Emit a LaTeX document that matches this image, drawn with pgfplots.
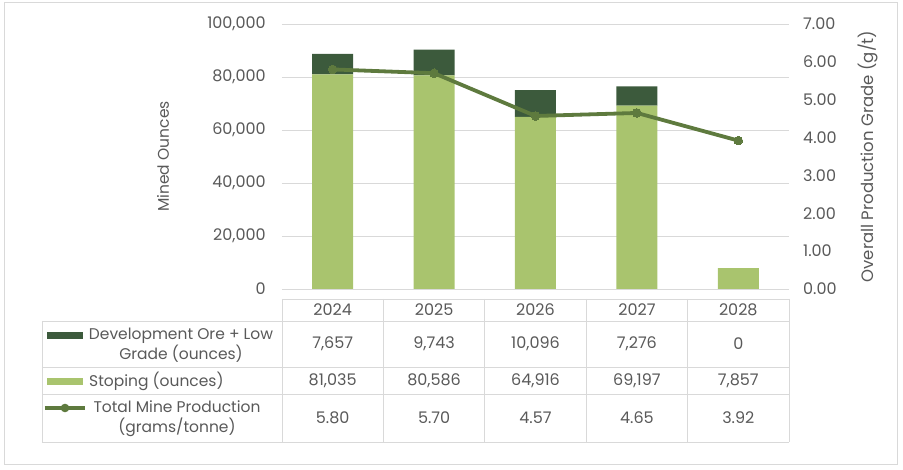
\documentclass[border=0pt]{standalone}
\usepackage{pgfplots}
\pgfplotsset{compat=1.18}
\usepackage{fontspec}
\setmainfont{Poppins}
\definecolor{dev}{HTML}{3C5A3C}
\definecolor{stope}{HTML}{A9C46E}
\definecolor{grade}{HTML}{5E7A3E}
\definecolor{txt}{HTML}{595959}
\definecolor{gridc}{HTML}{D9D9D9}
\newcommand\numf{\fontsize{16}{20}\selectfont}
\begin{document}
\begin{tikzpicture}[font=\fontsize{15.5}{20}\selectfont, text=txt]
\begin{axis}[
  at={(0,0)}, anchor=south west,
  scale only axis, width=507pt, height=265pt,
  xmin=-0.5, xmax=4.5, ymin=0, ymax=100000,
  ybar stacked, bar width=41pt,
  xtick=\empty,
  ytick={0,20000,40000,60000,80000,100000},
  yticklabels={0,{20,000},{40,000},{60,000},{80,000},{100,000}},
  scaled y ticks=false,
  yticklabel style={text=txt, font=\numf, inner sep=0pt, anchor=east, xshift=-16pt},
  ymajorgrids, grid style={gridc, line width=0.8pt},
  axis y line*=left, axis x line*=bottom,
  y axis line style={draw=none}, x axis line style={gridc, line width=0.8pt, -},
  major tick length=0pt,
  ylabel={Mined Ounces},
  ylabel style={at={(axis description cs:0,0.5)}, anchor=center, yshift=119pt, text=txt},
]
\addplot[fill=stope, draw=none] coordinates {(0,81035)(1,80586)(2,64916)(3,69197)(4,7857)};
\addplot[fill=dev, draw=none] coordinates {(0,7657)(1,9743)(2,10096)(3,7276)(4,0)};
\end{axis}
\begin{axis}[
  at={(0,0)}, anchor=south west,
  scale only axis, width=507pt, height=265pt,
  xmin=-0.5, xmax=4.5, ymin=0, ymax=7,
  axis y line*=right, axis x line=none,
  ytick={0,1,2,3,4,5,6,7},
  yticklabels={0.00,1.00,2.00,3.00,4.00,5.00,6.00,7.00},
  yticklabel style={text=txt, font=\numf, inner sep=0pt, anchor=west, xshift=14pt},
  y axis line style={draw=none},
  major tick length=0pt,
  ylabel={Overall Production Grade (g/t)},
  ylabel style={at={(axis description cs:1,0.5)}, anchor=center, yshift=-79pt, text=txt, font=\fontsize{16.5}{20}\selectfont},
]
\addplot[grade, line width=3.8pt, mark=*, mark size=4.3pt, mark options={fill=grade, draw=grade, line width=0pt}] coordinates {(0,5.80)(1,5.70)(2,4.57)(3,4.65)(4,3.92)};
\end{axis}
\begin{scope}[x=1pt, y=-1pt, shift={(-282pt,289pt)}]
\draw[gridc, line width=1pt] (5,3) rectangle (897,465);
% table grid
\draw[gridc, line width=0.8pt] (282,299) -- (789,299);
\foreach \x in {282,383.4,484.8,586.2,687.6,789} \draw[gridc, line width=0.8pt] (\x,299) -- (\x,442);
\foreach \y in {321,367,394,442} \draw[gridc, line width=0.8pt] (42,\y) -- (789,\y);
\draw[gridc, line width=0.8pt] (42,321) -- (42,442);
% header
\foreach \x/\t in {332.7/2024,434.1/2025,535.5/2026,636.9/2027,738.3/2028} \node[font=\numf] at (\x,310) {\t};
% row 1
\fill[dev] (47,332) rectangle (83,339);
\node[align=center] at (181,345) {Development Ore + Low\\Grade (ounces)};
\foreach \x/\t in {332.7/{7,657},434.1/{9,743},535.5/{10,096},636.9/{7,276},738.3/0} \node[font=\numf] at (\x,344) {\t};
% row 2
\fill[stope] (47,378) rectangle (83,385);
\node[anchor=west, inner sep=0pt] at (89,381) {Stoping (ounces)};
\foreach \x/\t in {332.7/{81,035},434.1/{80,586},535.5/{64,916},636.9/{69,197},738.3/{7,857}} \node[font=\numf] at (\x,381) {\t};
% row 3
\draw[grade, line width=3.8pt] (45,408) -- (85,408);
\fill[grade] (65,408) circle (4.3);
\node[align=center] at (177,419) {Total Mine Production\\(grams/tonne)};
\foreach \x/\t in {332.7/5.80,434.1/5.70,535.5/4.57,636.9/4.65,738.3/3.92} \node[font=\numf] at (\x,418) {\t};
\pgfresetboundingbox
\useasboundingbox (0,0) rectangle (903,470);
\end{scope}
\end{tikzpicture}
\end{document}
